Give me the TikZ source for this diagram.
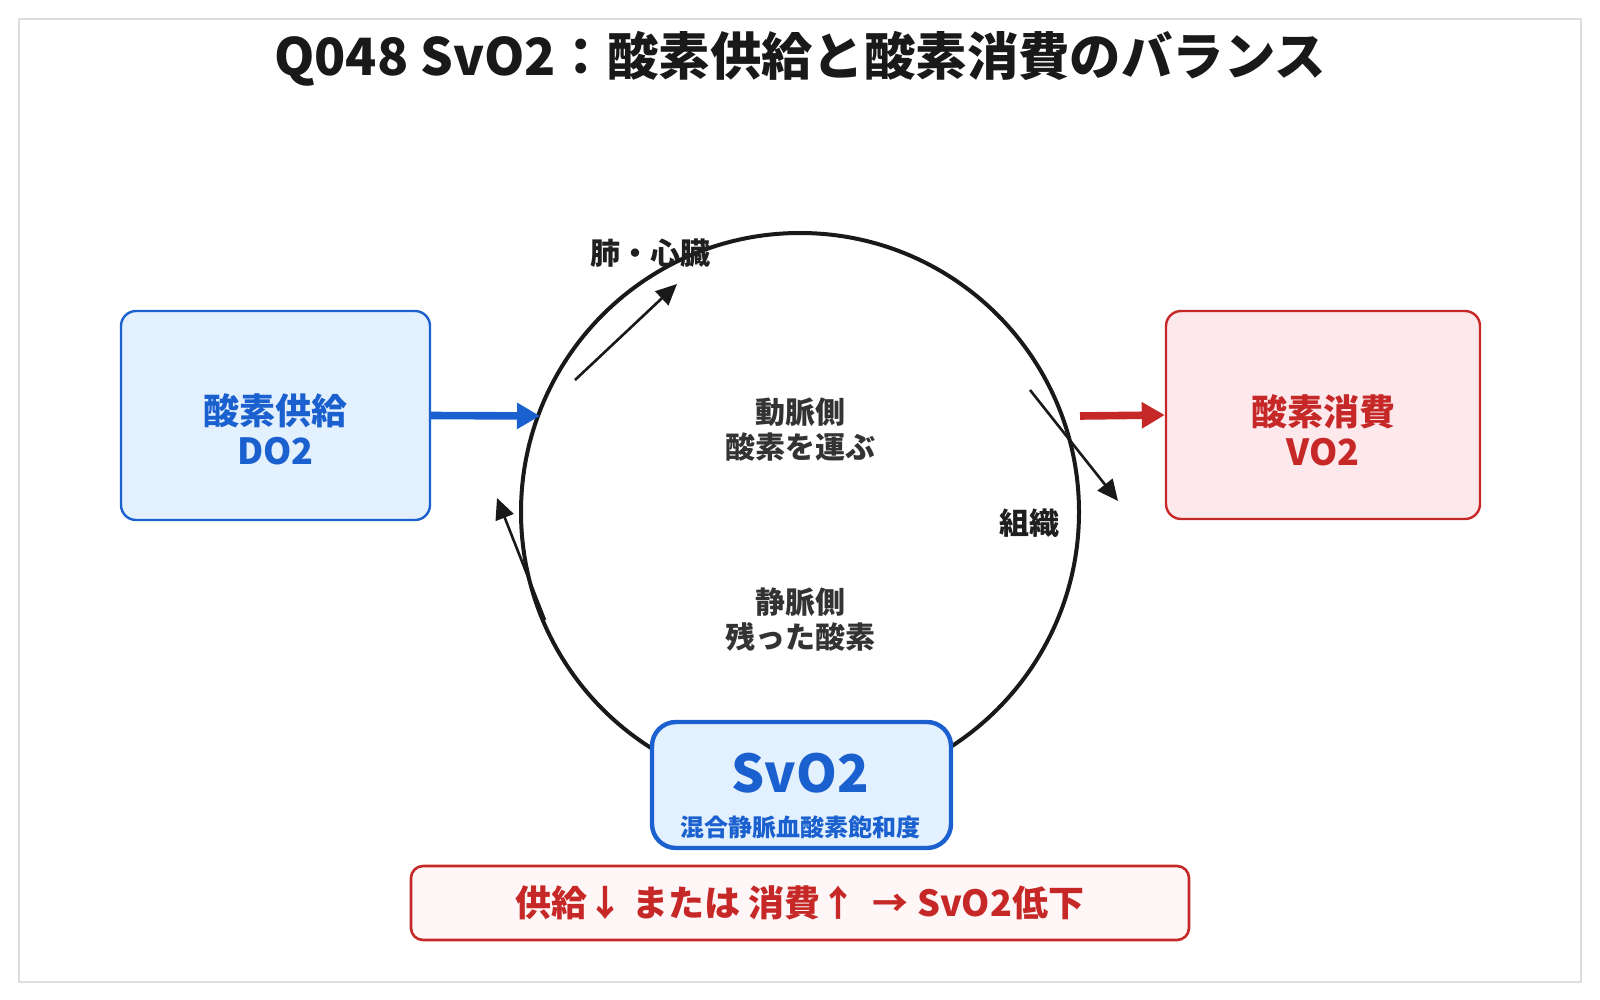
\documentclass[tikz,border=0pt]{standalone}
\usepackage{fontspec}
\setmainfont{Noto Sans CJK JP}
\usepackage{xcolor}
\usetikzlibrary{positioning,arrows.meta}
\definecolor{bluemain}{HTML}{1A60CF}
\definecolor{bluefill}{HTML}{E3F0FE}
\definecolor{redmain}{HTML}{C62828}
\definecolor{redfill}{HTML}{FDE8EB}
\definecolor{redpale}{HTML}{FFF7F7}
\definecolor{inkgray}{HTML}{333333}
\begin{document}
\begin{tikzpicture}[
          x=0.5pt, y=-0.5pt,
          font=\bfseries,
          lbl/.style={font=\fontsize{15}{17.5}\selectfont\bfseries, text=inkgray, align=center},
          box/.style={draw, rounded corners=7.5pt, line width=1.2pt, inner sep=0pt},
          boxtxt/.style={font=\fontsize{18}{20}\selectfont\bfseries, align=center},
          arr/.style={-{Triangle[length=10.5pt,width=9.5pt]}, line width=1.3pt, draw=black!90, fill=black!90},
          flow/.style={-{Triangle[length=11.5pt,width=12.5pt]}, line width=3.8pt}
      ]
        \useasboundingbox (0,0) rectangle (1600,1000);
        \draw[black!13, line width=1pt] (19,19) rectangle (1581,982);
        \node[font=\fontsize{25.7}{30}\selectfont\bfseries, text=black!90] (title) at (800,59) {Q048 SvO2：酸素供給と酸素消費のバランス};
        \node[circle, draw=black!90, line width=2pt, minimum size=279pt, inner sep=0pt] (loop) at (800,512) {};
        \node[box, draw=bluemain, fill=bluefill, minimum width=154.5pt, minimum height=104.5pt] (do2) at (275.5,415.5) {};
        \node[boxtxt, text=bluemain] (do2txt) at (275.5,429) {酸素供給\\DO2};
        \node[box, draw=redmain, fill=redfill, minimum width=157pt, minimum height=104pt] (vo2) at (1323,415) {};
        \node[boxtxt, text=redmain] (vo2txt) at (1323,430) {酸素消費\\VO2};
        \coordinate (doin) at (540,416);
        \coordinate (voout) at (1080,416);
        \draw[flow, bluemain] (do2.east) -- (doin);
        \draw[flow, redmain] (voout) -- (vo2.west);
        \coordinate (lungA) at (575,380);
        \coordinate (lungB) at (677,284);
        \coordinate (tisA) at (1030,390);
        \coordinate (tisB) at (1118,501);
        \coordinate (venA) at (545,620);
        \coordinate (venB) at (497,498);
        \draw[arr] (lungA) -- (lungB);
        \draw[arr] (tisA) -- (tisB);
        \draw[arr] (venA) -- (venB);
        \node[lbl, text=black!88] (lung) at (650,253) {肺・心臓};
        \node[lbl, text=black!88] (tissue) at (1029,523) {組織};
        \node[lbl] (artery) at (800,430) {動脈側\\酸素を運ぶ};
        \node[lbl] (vein) at (800,620) {静脈側\\残った酸素};
        \node[box, draw=bluemain, fill=bluefill, line width=2.2pt, rounded corners=12pt, minimum width=149.5pt, minimum height=63pt] (svo2) at (801.5,785) {};
        \node[font=\fontsize{26}{30}\selectfont\bfseries, text=bluemain] (svo2big) at (800,773) {SvO2};
        \node[font=\fontsize{12}{14}\selectfont\bfseries, text=bluemain] (svo2sub) at (800,827) {混合静脈血酸素飽和度};
        \node[box, draw=redmain, fill=redpale, line width=1.3pt, rounded corners=6pt, minimum width=389pt, minimum height=37pt, text=redmain, font=\fontsize{18}{20}\selectfont\bfseries] (note) at (800,903) {供給↓ または 消費↑ \ → SvO2低下};
      \end{tikzpicture}
\end{document}
